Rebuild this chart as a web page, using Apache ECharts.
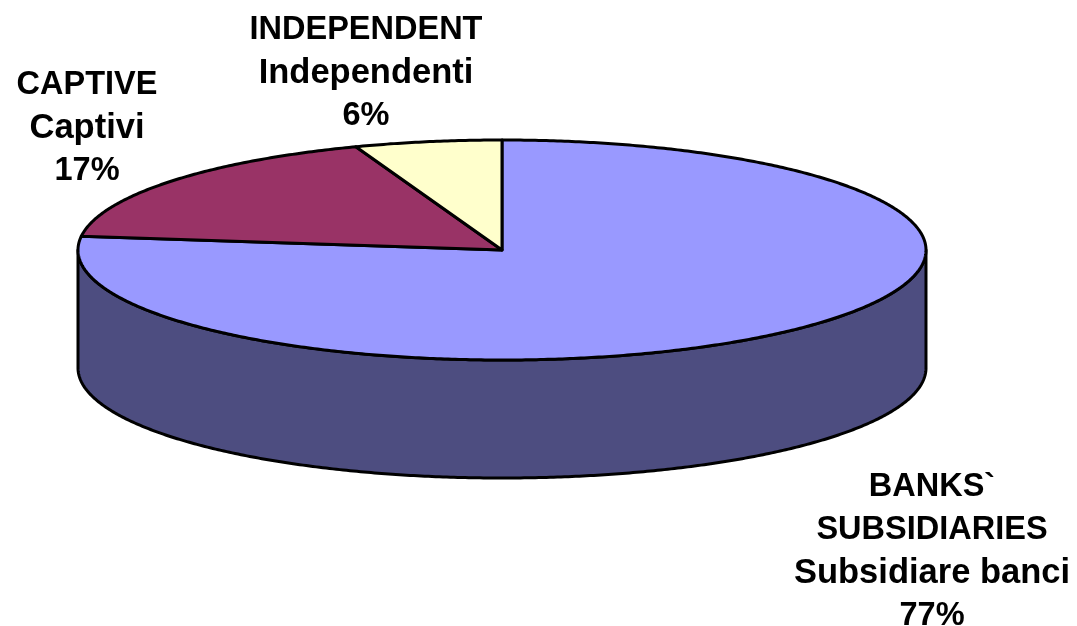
<!DOCTYPE html>
<html>
<head>
<meta charset="utf-8">
<style>html,body{margin:0;padding:0;background:#fff}#c{width:1077px;height:626px}</style>
<script src="https://cdn.jsdelivr.net/npm/echarts@6/dist/echarts.min.js"></script>
</head>
<body>
<div id="c"></div>
<script>
var categories = ["BANKS` SUBSIDIARIES", "CAPTIVE", "INDEPENDENT"];
var values = [77, 17.4, 5.6];
var labelLines = [
  ["BANKS`", "SUBSIDIARIES", "Subsidiare banci", "77%"],
  ["CAPTIVE", "Captivi", "17%"],
  ["INDEPENDENT", "Independenti", "6%"]
];
var topColors = ["#9999FF", "#993366", "#FFFFCC"];
var wallColors = ["#4D4D80", "#4D1A33", "#808066"];

var labelCenters = [[932, 487], [87, 85], [366, 30]];
var labelGaps = 43;
var cx = 502, cy = 250, rx = 424, ry = 110, depth = 118;
var total = values.reduce(function (a, b) { return a + b; }, 0);

function pt(deg, dy) {
  var r = deg * Math.PI / 180;
  return [cx + rx * Math.sin(r), cy - ry * Math.cos(r) + (dy || 0)];
}
function arc(a0, a1, dy) {
  var out = [], n = Math.max(2, Math.ceil(Math.abs(a1 - a0) * 2));
  for (var i = 0; i <= n; i++) out.push(pt(a0 + (a1 - a0) * i / n, dy));
  return out;
}
function startAngle(i) {
  var s = 0;
  for (var k = 0; k < i; k++) s += values[k];
  return s / total * 360;
}
var outline = { stroke: "#000", lineWidth: 3, lineJoin: "round" };

function fontSize(t) {
  if (/[a-z]/.test(t)) return 34.5;
  return 32.5;
}

function renderItem(params, api) {
  var i = params.dataIndex;
  var a0 = startAngle(i), a1 = a0 + api.value(0) / total * 360;
  var children = [];
  var w0 = Math.max(a0, 90), w1 = Math.min(a1, 270);
  if (w1 > w0) {
    children.push({
      type: "polygon", z2: 1,
      shape: { points: arc(w0, w1, 0).concat(arc(w1, w0, depth)) },
      style: Object.assign({ fill: wallColors[i] }, outline)
    });
  }
  children.push({
    type: "polygon", z2: 2,
    shape: { points: [[cx, cy]].concat(arc(a0, a1, 0)) },
    style: Object.assign({ fill: topColors[i] }, outline)
  });
  labelLines[i].forEach(function (t, k) {
    children.push({
      type: "text", z2: 5,
      x: labelCenters[i][0], y: labelCenters[i][1] + k * labelGaps,
      style: {
        text: t, fill: "#000", align: "center", verticalAlign: "middle",
        font: "bold " + fontSize(t) + "px 'Liberation Sans'"
      }
    });
  });
  return { type: "group", children: children };
}

var chart = echarts.init(document.getElementById("c"), null, { renderer: "canvas" });
chart.setOption({
  animation: false,
  backgroundColor: "#fff",
  series: [{
    type: "custom",
    coordinateSystem: "none",
    renderItem: renderItem,
    silent: true,
    data: values.map(function (v, i) { return { name: categories[i], value: [v] }; })
  }]
});
</script>
</body>
</html>
